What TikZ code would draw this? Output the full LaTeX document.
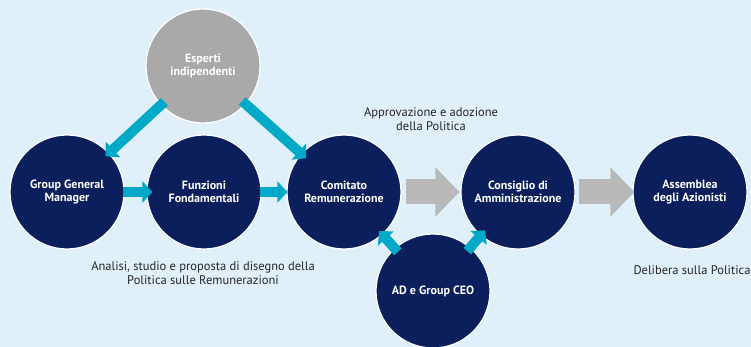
\documentclass[tikz,border=0pt]{standalone}
\usepackage{fontspec}
\setmainfont{PT Sans}
\usetikzlibrary{arrows.meta}
\definecolor{sfondo}{HTML}{DFF0FA}
\definecolor{blu}{HTML}{0B1F5C}
\definecolor{ciano}{HTML}{00A9C7}
\definecolor{grigio}{HTML}{A9A9A9}
\definecolor{grigiofreccia}{HTML}{B9B9B9}

\begin{document}
\begin{tikzpicture}[x=1pt,y=-1pt,
    organo/.style={circle,draw=white,line width=1.2pt,fill=blu,minimum size=114pt,inner sep=0pt,text=white,align=center,font=\bfseries\fontsize{12}{13.5}\selectfont},
    freccia/.style={draw=ciano,line width=10pt,-{Triangle[length=10pt,width=21pt]}},
    frecciagrigia/.style={draw=grigiofreccia,line width=25pt,-{Triangle[length=24pt,width=48pt]}},
    nota/.style={align=center,text=black!85,font=\fontsize{12.5}{14}\selectfont}]
      \useasboundingbox[fill=sfondo] (0,0) rectangle (751,347);

      \foreach \nome/\x/\y/\testo in {ggm/67/192/{Group General\\Manager},funzioni/204/192/{Funzioni\\Fondamentali},comitato/344/192/{Comitato\\Remunerazione},consiglio/518/192/{Consiglio di\\Amministrazione},assemblea/690/192/{Assemblea\\degli Azionisti},ad/433/291/{AD e Group CEO}} {
        \node[organo] (\nome) at (\x,\y) {\testo};
      }
      \node[organo,fill=grigio] (esperti) at (203,66) {Esperti\\indipendenti};

      \draw[freccia,shorten <=-2pt,shorten >=-6pt] (ggm) -- (funzioni);
      \draw[freccia,shorten <=-2pt,shorten >=-1pt] (funzioni) -- (comitato);
      \draw[freccia,shorten <=-5pt,shorten >=-5pt] (esperti) -- (ggm);
      \draw[freccia,shorten <=-5pt,shorten >=-7pt] (esperti) -- (comitato);
      \draw[freccia,shorten <=-5pt,shorten >=-5pt] (ad) -- (comitato);
      \draw[freccia,shorten <=-5pt,shorten >=-7pt] (ad) -- (consiglio);
      \draw[frecciagrigia,shorten <=4pt,shorten >=1pt] (comitato) -- (consiglio);
      \draw[frecciagrigia,shorten <=3pt,shorten >=-2pt] (consiglio) -- (assemblea);

      \node[nota] (approvazione) at (431,119) {Approvazione e adozione\\della Politica};
      \node[nota] (analisi) at (203,273) {Analisi, studio e proposta di disegno della\\Politica sulle Remunerazioni};
      \node[nota] (delibera) at (692,270) {Delibera sulla Politica};
    \end{tikzpicture}
\end{document}
